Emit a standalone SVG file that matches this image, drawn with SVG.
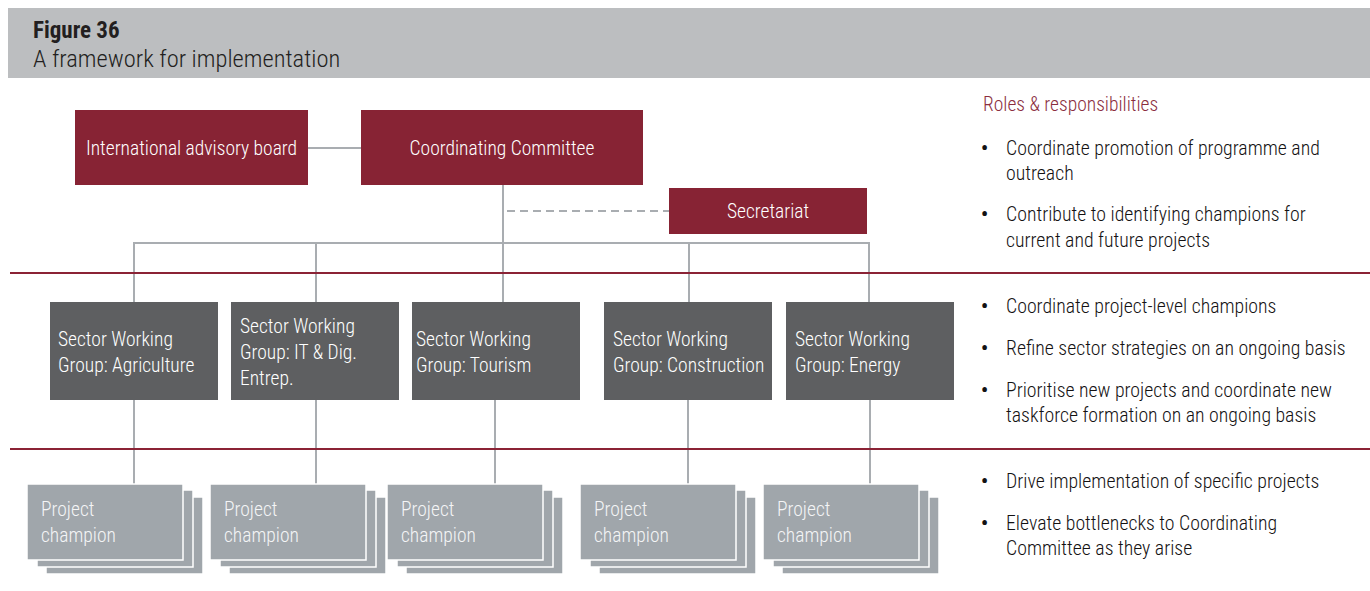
<svg xmlns="http://www.w3.org/2000/svg" width="1370" height="591" viewBox="0 0 1370 591">
<defs>
<style>
text{font-family:"Liberation Sans Narrow","Roboto Condensed","DejaVu Sans Condensed","Liberation Sans",sans-serif;}
.maroon{fill:#872334;}
.wg{fill:#5e5f61;}
.pc{fill:#a0a6ab;stroke:#ffffff;stroke-width:1.5;}
.wt{fill:#ffffff;font-size:19.5px;font-weight:300;}
.pt{fill:#f4f5f6;font-size:19.5px;font-weight:300;}
.conn{stroke:#a9adb1;stroke-width:2;fill:none;}
.dash{stroke:#a9adb1;stroke-width:2;fill:none;stroke-dasharray:8 5;}
.sep{stroke:#8b2335;stroke-width:2;}
.bt{fill:#141213;font-size:19.8px;font-weight:300;}
</style>
</defs>
<rect x="8" y="8" width="1362" height="70" fill="#bcbec0"/>
<text x="33" y="38" font-size="23" font-weight="bold" fill="#231f20">Figure 36</text>
<text x="33" y="67" font-size="24.5" font-weight="300" fill="#231f20">A framework for implementation</text>

<g id="connectors">
<line class="conn" x1="308" y1="148" x2="361" y2="148"/>
<line class="conn" x1="503" y1="185" x2="503" y2="243"/>
<line class="dash" x1="507" y1="211" x2="669" y2="211"/>
<polyline class="conn" points="134,302 134,243 869,243 869,302"/>
<line class="conn" x1="316" y1="243" x2="316" y2="302"/>
<line class="conn" x1="503" y1="243" x2="503" y2="302"/>
<line class="conn" x1="689" y1="243" x2="689" y2="302"/>
<line class="conn" x1="134" y1="400" x2="134" y2="484"/>
<line class="conn" x1="316" y1="400" x2="316" y2="484"/>
<line class="conn" x1="495" y1="400" x2="495" y2="484"/>
<line class="conn" x1="688" y1="400" x2="688" y2="484"/>
<line class="conn" x1="870" y1="400" x2="870" y2="484"/>
</g>

<line class="sep" x1="10" y1="273" x2="1370" y2="273"/>
<line class="sep" x1="10" y1="449" x2="1370" y2="449"/>

<g id="advisory-board">
<rect class="maroon" x="75" y="110" width="233" height="75"/>
<text class="wt" x="191.5" y="154.5" text-anchor="middle">International advisory board</text>
</g>
<g id="coordinating-committee">
<rect class="maroon" x="361" y="110" width="282" height="75"/>
<text class="wt" x="502" y="154.5" text-anchor="middle">Coordinating Committee</text>
</g>
<g id="secretariat">
<rect class="maroon" x="669" y="188" width="198" height="46"/>
<text class="wt" x="768" y="217.5" text-anchor="middle">Secretariat</text>
</g>

<g id="wg-agriculture">
<rect class="wg" x="50" y="302" width="168" height="98"/>
<text class="wt" x="58" y="346">Sector Working</text>
<text class="wt" x="58" y="372">Group: Agriculture</text>
</g>
<g id="wg-it">
<rect class="wg" x="231" y="302" width="168" height="98"/>
<text class="wt" x="240" y="333">Sector Working</text>
<text class="wt" x="240" y="359">Group: IT &amp; Dig.</text>
<text class="wt" x="240" y="385">Entrep.</text>
</g>
<g id="wg-tourism">
<rect class="wg" x="412" y="302" width="168" height="98"/>
<text class="wt" x="416" y="346">Sector Working</text>
<text class="wt" x="416" y="372">Group: Tourism</text>
</g>
<g id="wg-construction">
<rect class="wg" x="604" y="302" width="168" height="98"/>
<text class="wt" x="613" y="346">Sector Working</text>
<text class="wt" x="613" y="372">Group: Construction</text>
</g>
<g id="wg-energy">
<rect class="wg" x="786" y="302" width="168" height="98"/>
<text class="wt" x="795" y="346">Sector Working</text>
<text class="wt" x="795" y="372">Group: Energy</text>
</g>

<g id="pc-1">
<rect class="pc" x="46" y="497" width="157" height="77"/>
<rect class="pc" x="37" y="490" width="156" height="77"/>
<rect class="pc" x="27" y="484" width="156" height="76"/>
<text class="pt" x="41" y="516">Project</text>
<text class="pt" x="41" y="542">champion</text>
</g>
<g id="pc-2">
<rect class="pc" x="229" y="497" width="157" height="77"/>
<rect class="pc" x="220" y="490" width="156" height="77"/>
<rect class="pc" x="210" y="484" width="156" height="76"/>
<text class="pt" x="224" y="516">Project</text>
<text class="pt" x="224" y="542">champion</text>
</g>
<g id="pc-3">
<rect class="pc" x="406" y="497" width="157" height="77"/>
<rect class="pc" x="397" y="490" width="156" height="77"/>
<rect class="pc" x="387" y="484" width="156" height="76"/>
<text class="pt" x="401" y="516">Project</text>
<text class="pt" x="401" y="542">champion</text>
</g>
<g id="pc-4">
<rect class="pc" x="599" y="497" width="157" height="77"/>
<rect class="pc" x="590" y="490" width="156" height="77"/>
<rect class="pc" x="580" y="484" width="156" height="76"/>
<text class="pt" x="594" y="516">Project</text>
<text class="pt" x="594" y="542">champion</text>
</g>
<g id="pc-5">
<rect class="pc" x="782" y="497" width="157" height="77"/>
<rect class="pc" x="773" y="490" width="156" height="77"/>
<rect class="pc" x="763" y="484" width="156" height="76"/>
<text class="pt" x="777" y="516">Project</text>
<text class="pt" x="777" y="542">champion</text>
</g>

<g id="roles">
<text x="983" y="111" font-size="19.5" font-weight="300" fill="#8b2e3e">Roles &amp; responsibilities</text>
<g class="bt">
<text x="981" y="155" font-weight="bold">•</text>
<text x="1006" y="155">Coordinate promotion of programme and</text>
<text x="1006" y="180">outreach</text>
<text x="981" y="221" font-weight="bold">•</text>
<text x="1006" y="221">Contribute to identifying champions for</text>
<text x="1006" y="247">current and future projects</text>
<text x="981" y="313" font-weight="bold">•</text>
<text x="1006" y="313">Coordinate project-level champions</text>
<text x="981" y="355" font-weight="bold">•</text>
<text x="1006" y="355">Refine sector strategies on an ongoing basis</text>
<text x="981" y="397" font-weight="bold">•</text>
<text x="1006" y="397">Prioritise new projects and coordinate new</text>
<text x="1006" y="422">taskforce formation on an ongoing basis</text>
<text x="981" y="488" font-weight="bold">•</text>
<text x="1006" y="488">Drive implementation of specific projects</text>
<text x="981" y="530" font-weight="bold">•</text>
<text x="1006" y="530">Elevate bottlenecks to Coordinating</text>
<text x="1006" y="555">Committee as they arise</text>
</g>
</g>
</svg>
